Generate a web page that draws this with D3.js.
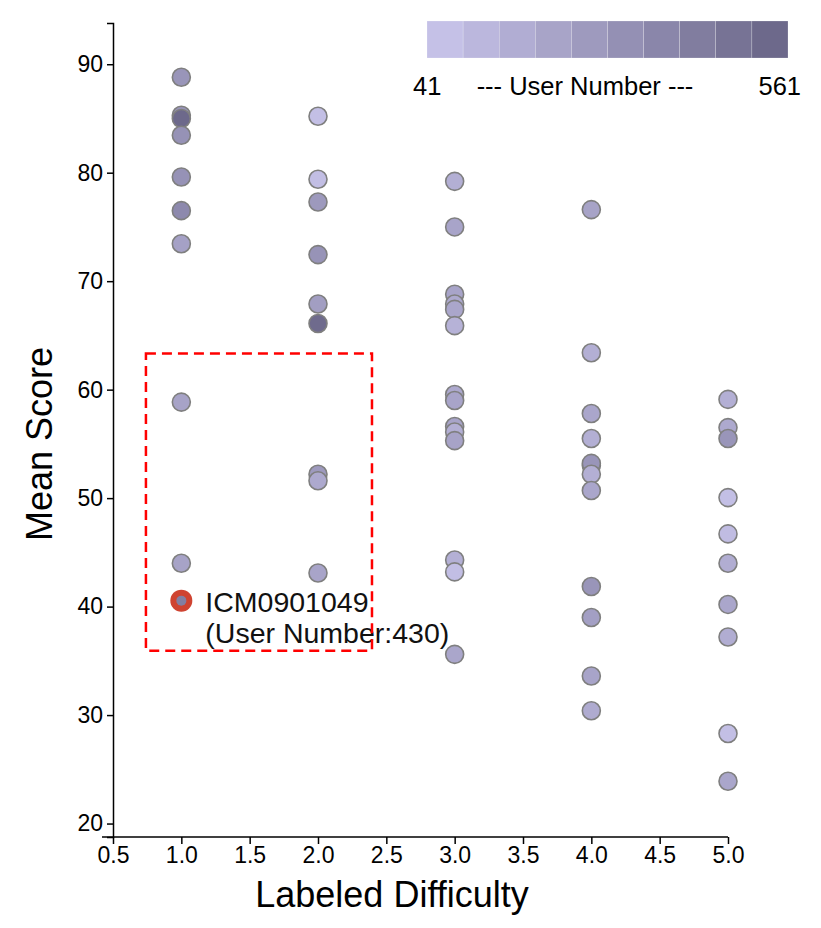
<!DOCTYPE html>
<html><head><meta charset="utf-8">
<script src="https://cdn.jsdelivr.net/npm/d3@7"></script>
<style>body{margin:0;background:#fff;font-family:"Liberation Sans",Arial,Helvetica,sans-serif;}</style>
</head><body><div id="chart"></div>
<script>
// Data
const difficulty = [1,1,1,1,1,1,1,1,1,
  2,2,2,2,2,2,2,2,2,
  3,3,3,3,3,3,3,3,3,3,3,3,3,3,
  4,4,4,4,4,4,4,4,4,4,4,4,
  5,5,5,5,5,5,5,5,5,5];
const meanScore = [88.8,85.3,85.0,83.45,79.6,76.5,73.45,58.85,44.0,
  85.2,79.4,77.3,72.45,67.9,66.1,52.2,51.6,43.1,
  79.2,75.0,68.8,67.9,67.4,65.9,59.55,59.0,56.6,56.1,55.3,44.3,43.2,35.6,
  76.6,63.4,57.8,55.5,53.0,53.2,52.2,50.7,41.85,39.0,33.6,30.4,
  59.1,56.5,55.5,50.05,46.7,44.0,40.2,37.2,28.3,23.9];
const userNumber = [300,300,561,320,320,370,230,220,220,
  50,60,280,310,250,550,270,180,210,
  150,210,210,180,200,130,180,210,210,150,220,140,60,200,
  220,150,200,150,150,300,150,200,300,240,210,170,
  150,180,300,55,70,160,200,160,55,200];
const highlight = {name:"ICM0901049", difficulty:1, score:40.55, users:430};
const boxX = [0.741, 2.395];
const boxY = [63.34, 35.94];
const xTicks = [0.5,1.0,1.5,2.0,2.5,3.0,3.5,4.0,4.5,5.0];
const yTicks = [20,30,40,50,60,70,80,90];
const userRange = [41, 561];

const W = 821, H = 928;
const m = {left:113, top:23, right:93, bottom:91};
const svg = d3.select("#chart").append("svg").attr("width",W).attr("height",H);

const x = d3.scaleLinear().domain([0.5,5.0]).range([m.left, W-m.right]);
const y = d3.scaleLinear().domain([18.76,93.8]).range([H-m.bottom, m.top]);
const color = d3.scaleLinear().domain(userRange).range(["#c5c1e7","#6d698b"]);

// axes
const xa = svg.append("g").attr("transform",`translate(0,${H-m.bottom})`)
  .call(d3.axisBottom(x).tickValues(xTicks).tickFormat(d3.format(".1f")).tickSizeOuter(0));
const ya = svg.append("g").attr("transform",`translate(${m.left},0)`)
  .call(d3.axisLeft(y).tickValues(yTicks).tickSizeOuter(6));
[xa,ya].forEach(g=>{
  g.attr("font-size",null).attr("font-family",null);
  g.selectAll("text").style("font-family",'"Liberation Sans",Arial,sans-serif').style("font-size","23px").attr("fill","#000");
  g.selectAll("path,line").attr("stroke","#000").attr("stroke-width",1.5);
});
xa.selectAll(".tick line").attr("y2",7);
xa.selectAll("text").attr("y",10);
ya.selectAll("text").attr("x",-10);
xa.select("path").attr("d",`M${m.left-11},0H${W-m.right}`);

svg.append("text").attr("x",392).attr("y",907)
  .attr("text-anchor","middle").style("font-size","36px").text("Labeled Difficulty");
svg.append("text").attr("transform",`translate(52,444) rotate(-90)`)
  .attr("text-anchor","middle").style("font-size","36px").text("Mean Score");

// points
const pts = difficulty.map((d,i)=>({d, s:meanScore[i], u:userNumber[i]}));
svg.append("g").selectAll("circle").data(pts).join("circle")
  .attr("cx",p=>x(p.d)).attr("cy",p=>y(p.s)).attr("r",9)
  .attr("fill",p=>color(p.u)).attr("stroke","#7f7f7f").attr("stroke-width",1.6);

// highlighted point
svg.append("circle").attr("cx",x(highlight.difficulty)).attr("cy",y(highlight.score))
  .attr("r",11).attr("fill","#cf4331");
svg.append("circle").attr("cx",x(highlight.difficulty)).attr("cy",y(highlight.score))
  .attr("r",5).attr("fill",color(highlight.users));
svg.append("text").attr("x",x(highlight.difficulty)+24).attr("y",y(highlight.score)+11)
  .style("font-size","28.5px").attr("fill","#111").text(highlight.name);
svg.append("text").attr("x",x(highlight.difficulty)+24).attr("y",y(highlight.score)+42)
  .style("font-size","28.5px").attr("fill","#111").text(`(User Number:${highlight.users})`);

// dashed box
svg.append("rect").attr("x",x(boxX[0])).attr("y",y(boxY[0]))
  .attr("width",x(boxX[1])-x(boxX[0])).attr("height",y(boxY[1])-y(boxY[0]))
  .attr("fill","none").attr("stroke","#f00").attr("stroke-width",2.5).attr("stroke-dasharray","10,6");

// legend
const nBins = 10, lx0 = 427, lx1 = 788, ly = 21, lh = 37;
const bw = (lx1-lx0)/nBins;
const lg = svg.append("g");
lg.selectAll("rect").data(d3.range(nBins)).join("rect")
  .attr("x",i=>lx0+i*bw).attr("y",ly).attr("width",bw).attr("height",lh)
  .attr("fill",i=>color(userRange[0]+(userRange[1]-userRange[0])*i/(nBins-1)))
  .attr("stroke","#fff").attr("stroke-width",0.4).attr("stroke-opacity",0.5);
lg.append("text").attr("x",413).attr("y",95).style("font-size","25.5px").text(userRange[0]);
lg.append("text").attr("x",585).attr("y",95).attr("text-anchor","middle").style("font-size","25.5px").text("--- User Number ---");
lg.append("text").attr("x",801).attr("y",95).attr("text-anchor","end").style("font-size","25.5px").text(userRange[1]);
</script></body></html>
